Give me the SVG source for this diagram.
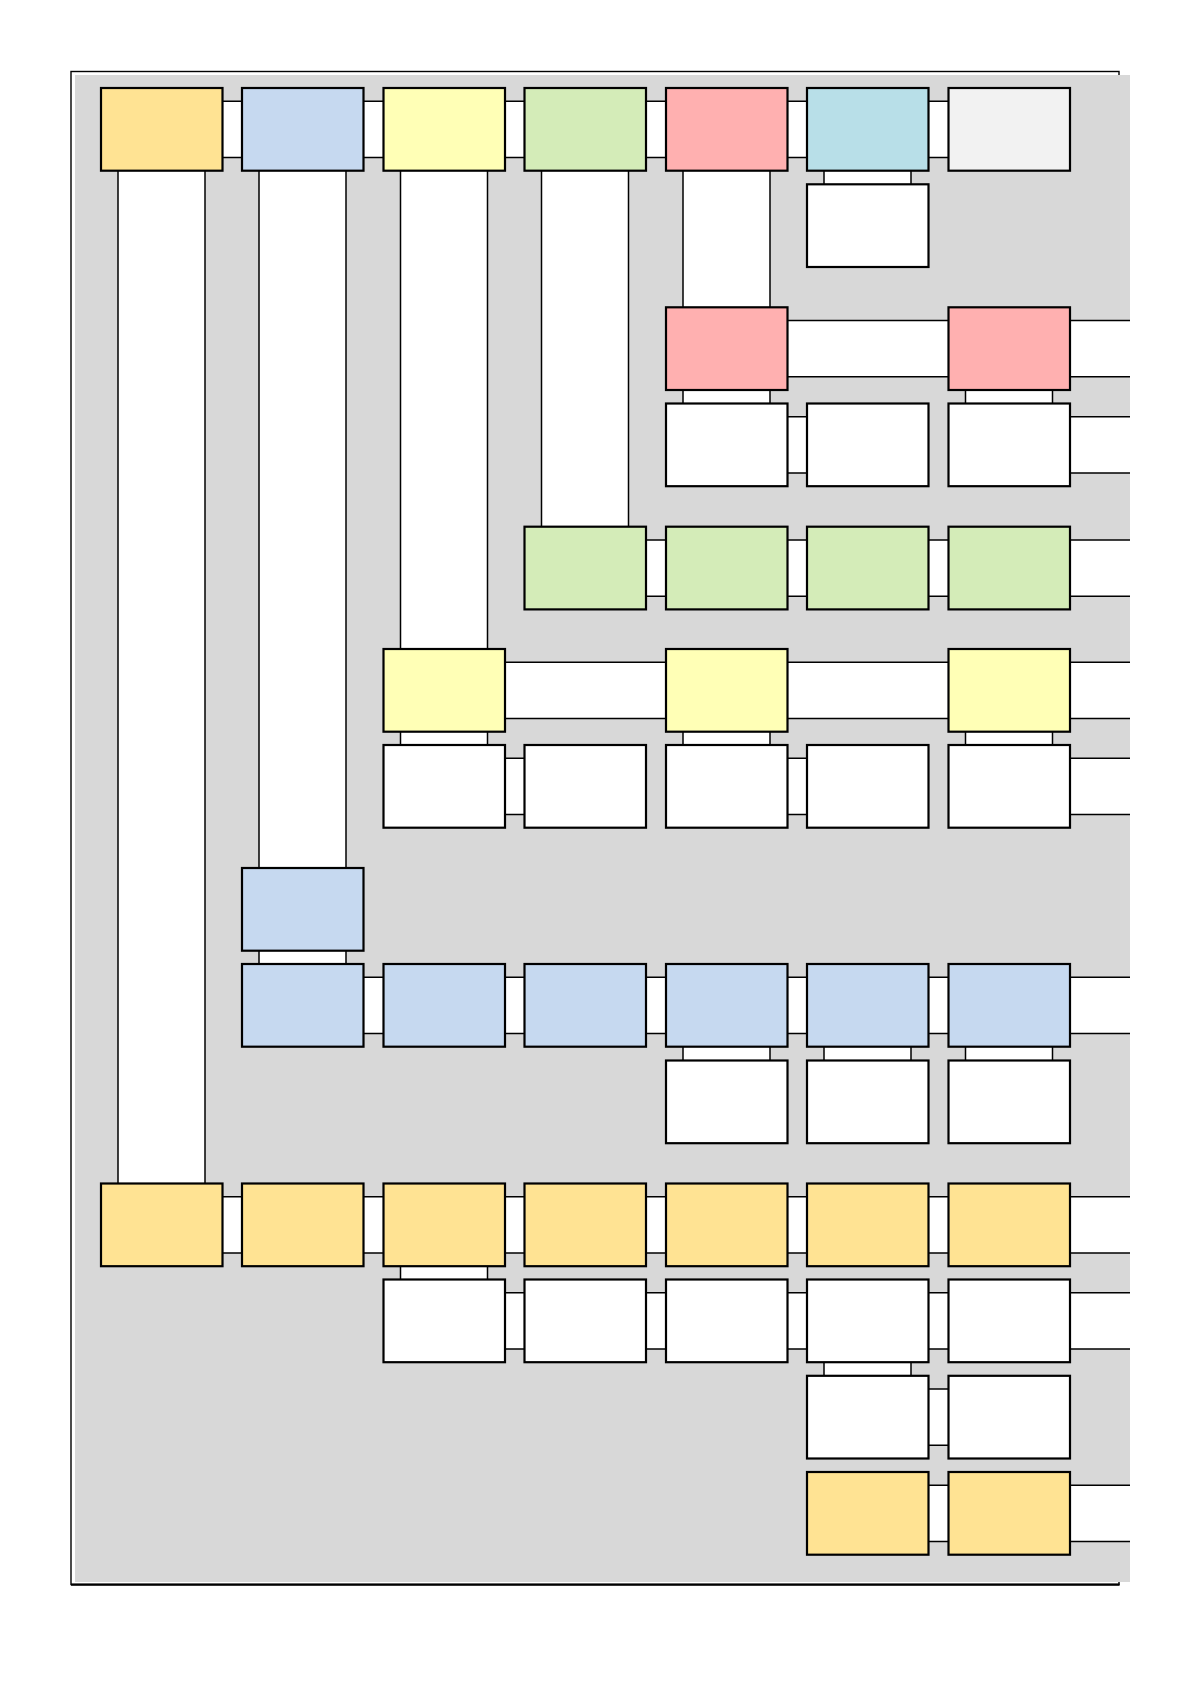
<svg xmlns="http://www.w3.org/2000/svg" width="1190" height="1684" viewBox="0 0 1190 1684">
<defs>
<style>
.page{fill:none;stroke:#000;stroke-width:1.4}
.bg{fill:#d8d8d8}
.band{fill:#fff;stroke:none}
.edge{fill:none;stroke:#000;stroke-width:1.5}
.n{stroke:#000;stroke-width:2.2}
.gold{fill:#ffe393}
.blue{fill:#c6d9f0}
.yel{fill:#ffffb6}
.grn{fill:#d4ecb8}
.pink{fill:#ffb0b0}
.cyan{fill:#b8dfe8}
.lgray{fill:#f2f2f2}
.wht{fill:#fff}
</style>
</defs>
<rect width="1190" height="1684" fill="#fff"/>
<rect class="page" x="71" y="71.5" width="1048" height="1513"/>
<path d="M71 1584.6 H1119.5" stroke="#000" stroke-width="2.4" fill="none"/>
<rect class="bg" x="75" y="75" width="1055" height="1507"/>

<g id="connectors">
<!-- row 1 horizontals -->
<rect class="band" x="222.5" y="101.2" width="19.5" height="56.3"/><path class="edge" d="M222.5 101.2H242M222.5 157.5H242"/>
<rect class="band" x="363.5" y="101.2" width="20" height="56.3"/><path class="edge" d="M363.5 101.2H383.5M363.5 157.5H383.5"/>
<rect class="band" x="505" y="101.2" width="19.5" height="56.3"/><path class="edge" d="M505 101.2H524.5M505 157.5H524.5"/>
<rect class="band" x="646" y="101.2" width="20" height="56.3"/><path class="edge" d="M646 101.2H666M646 157.5H666"/>
<rect class="band" x="787.5" y="101.2" width="19.5" height="56.3"/><path class="edge" d="M787.5 101.2H807M787.5 157.5H807"/>
<rect class="band" x="928.5" y="101.2" width="20" height="56.3"/><path class="edge" d="M928.5 101.2H948.5M928.5 157.5H948.5"/>

<!-- verticals -->
<rect class="band" x="118" y="170.7" width="87" height="1012.8"/><path class="edge" d="M118 170.7V1183.5M205 170.7V1183.5"/>
<rect class="band" x="259" y="170.7" width="87" height="697.3"/><path class="edge" d="M259 170.7V868M346 170.7V868"/>
<rect class="band" x="259" y="950.7" width="87" height="13.3"/><path class="edge" d="M259 950.7V964M346 950.7V964"/>
<rect class="band" x="400.5" y="170.7" width="87" height="478.3"/><path class="edge" d="M400.5 170.7V649M487.5 170.7V649"/>
<rect class="band" x="400.5" y="731.7" width="87" height="13.3"/><path class="edge" d="M400.5 731.7V745M487.5 731.7V745"/>
<rect class="band" x="400.5" y="1266.2" width="87" height="13.3"/><path class="edge" d="M400.5 1266.2V1279.5M487.5 1266.2V1279.5"/>
<rect class="band" x="541.5" y="170.7" width="87" height="356"/><path class="edge" d="M541.5 170.7V526.7M628.5 170.7V526.7"/>
<rect class="band" x="683" y="170.7" width="87" height="136.6"/><path class="edge" d="M683 170.7V307.3M770 170.7V307.3"/>
<rect class="band" x="683" y="390" width="87" height="13.5"/><path class="edge" d="M683 390V403.5M770 390V403.5"/>
<rect class="band" x="683" y="731.7" width="87" height="13.3"/><path class="edge" d="M683 731.7V745M770 731.7V745"/>
<rect class="band" x="683" y="1046.7" width="87" height="13.8"/><path class="edge" d="M683 1046.7V1060.5M770 1046.7V1060.5"/>
<rect class="band" x="824" y="170.7" width="87" height="13.6"/><path class="edge" d="M824 170.7V184.3M911 170.7V184.3"/>
<rect class="band" x="824" y="1046.7" width="87" height="13.8"/><path class="edge" d="M824 1046.7V1060.5M911 1046.7V1060.5"/>
<rect class="band" x="824" y="1362.2" width="87" height="13.6"/><path class="edge" d="M824 1362.2V1375.8M911 1362.2V1375.8"/>
<rect class="band" x="965.5" y="390" width="87" height="13.5"/><path class="edge" d="M965.5 390V403.5M1052.5 390V403.5"/>
<rect class="band" x="965.5" y="731.7" width="87" height="13.3"/><path class="edge" d="M965.5 731.7V745M1052.5 731.7V745"/>
<rect class="band" x="965.5" y="1046.7" width="87" height="13.8"/><path class="edge" d="M965.5 1046.7V1060.5M1052.5 1046.7V1060.5"/>

<!-- row 3 -->
<rect class="band" x="787.5" y="320.5" width="161" height="56.3"/><path class="edge" d="M787.5 320.5H948.5M787.5 376.8H948.5"/>
<rect class="band" x="1070" y="320.5" width="60" height="56.3"/><path class="edge" d="M1070 320.5H1130M1070 376.8H1130"/>
<!-- row 4 -->
<rect class="band" x="787.5" y="416.7" width="19.5" height="56.3"/><path class="edge" d="M787.5 416.7H807M787.5 473H807"/>
<rect class="band" x="1070" y="416.7" width="60" height="56.3"/><path class="edge" d="M1070 416.7H1130M1070 473H1130"/>
<!-- row 5 -->
<rect class="band" x="646" y="539.9" width="20" height="56.3"/><path class="edge" d="M646 539.9H666M646 596.2H666"/>
<rect class="band" x="787.5" y="539.9" width="19.5" height="56.3"/><path class="edge" d="M787.5 539.9H807M787.5 596.2H807"/>
<rect class="band" x="928.5" y="539.9" width="20" height="56.3"/><path class="edge" d="M928.5 539.9H948.5M928.5 596.2H948.5"/>
<rect class="band" x="1070" y="539.9" width="60" height="56.3"/><path class="edge" d="M1070 539.9H1130M1070 596.2H1130"/>
<!-- row 6 -->
<rect class="band" x="505" y="662.2" width="161" height="56.3"/><path class="edge" d="M505 662.2H666M505 718.5H666"/>
<rect class="band" x="787.5" y="662.2" width="161" height="56.3"/><path class="edge" d="M787.5 662.2H948.5M787.5 718.5H948.5"/>
<rect class="band" x="1070" y="662.2" width="60" height="56.3"/><path class="edge" d="M1070 662.2H1130M1070 718.5H1130"/>
<!-- row 7 -->
<rect class="band" x="505" y="758.2" width="19.5" height="56.3"/><path class="edge" d="M505 758.2H524.5M505 814.5H524.5"/>
<rect class="band" x="787.5" y="758.2" width="19.5" height="56.3"/><path class="edge" d="M787.5 758.2H807M787.5 814.5H807"/>
<rect class="band" x="1070" y="758.2" width="60" height="56.3"/><path class="edge" d="M1070 758.2H1130M1070 814.5H1130"/>
<!-- row 9 -->
<rect class="band" x="363.5" y="977.2" width="20" height="56.3"/><path class="edge" d="M363.5 977.2H383.5M363.5 1033.5H383.5"/>
<rect class="band" x="505" y="977.2" width="19.5" height="56.3"/><path class="edge" d="M505 977.2H524.5M505 1033.5H524.5"/>
<rect class="band" x="646" y="977.2" width="20" height="56.3"/><path class="edge" d="M646 977.2H666M646 1033.5H666"/>
<rect class="band" x="787.5" y="977.2" width="19.5" height="56.3"/><path class="edge" d="M787.5 977.2H807M787.5 1033.5H807"/>
<rect class="band" x="928.5" y="977.2" width="20" height="56.3"/><path class="edge" d="M928.5 977.2H948.5M928.5 1033.5H948.5"/>
<rect class="band" x="1070" y="977.2" width="60" height="56.3"/><path class="edge" d="M1070 977.2H1130M1070 1033.5H1130"/>
<!-- row 11 -->
<rect class="band" x="222.5" y="1196.7" width="19.5" height="56.3"/><path class="edge" d="M222.5 1196.7H242M222.5 1253H242"/>
<rect class="band" x="363.5" y="1196.7" width="20" height="56.3"/><path class="edge" d="M363.5 1196.7H383.5M363.5 1253H383.5"/>
<rect class="band" x="505" y="1196.7" width="19.5" height="56.3"/><path class="edge" d="M505 1196.7H524.5M505 1253H524.5"/>
<rect class="band" x="646" y="1196.7" width="20" height="56.3"/><path class="edge" d="M646 1196.7H666M646 1253H666"/>
<rect class="band" x="787.5" y="1196.7" width="19.5" height="56.3"/><path class="edge" d="M787.5 1196.7H807M787.5 1253H807"/>
<rect class="band" x="928.5" y="1196.7" width="20" height="56.3"/><path class="edge" d="M928.5 1196.7H948.5M928.5 1253H948.5"/>
<rect class="band" x="1070" y="1196.7" width="60" height="56.3"/><path class="edge" d="M1070 1196.7H1130M1070 1253H1130"/>
<!-- row 12 -->
<rect class="band" x="505" y="1292.7" width="19.5" height="56.3"/><path class="edge" d="M505 1292.7H524.5M505 1349H524.5"/>
<rect class="band" x="646" y="1292.7" width="20" height="56.3"/><path class="edge" d="M646 1292.7H666M646 1349H666"/>
<rect class="band" x="787.5" y="1292.7" width="19.5" height="56.3"/><path class="edge" d="M787.5 1292.7H807M787.5 1349H807"/>
<rect class="band" x="928.5" y="1292.7" width="20" height="56.3"/><path class="edge" d="M928.5 1292.7H948.5M928.5 1349H948.5"/>
<rect class="band" x="1070" y="1292.7" width="60" height="56.3"/><path class="edge" d="M1070 1292.7H1130M1070 1349H1130"/>
<!-- row 13 -->
<rect class="band" x="928.5" y="1389" width="20" height="56.3"/><path class="edge" d="M928.5 1389H948.5M928.5 1445.3H948.5"/>
<!-- row 14 -->
<rect class="band" x="928.5" y="1485.2" width="20" height="56.3"/><path class="edge" d="M928.5 1485.2H948.5M928.5 1541.5H948.5"/>
<rect class="band" x="1070" y="1485.2" width="60" height="56.3"/><path class="edge" d="M1070 1485.2H1130M1070 1541.5H1130"/>
</g>

<!-- row 1 -->
<g id="n1-1"><rect class="n gold" x="101" y="88" width="121.5" height="82.7"/></g>
<g id="n1-2"><rect class="n blue" x="242" y="88" width="121.5" height="82.7"/></g>
<g id="n1-3"><rect class="n yel" x="383.5" y="88" width="121.5" height="82.7"/></g>
<g id="n1-4"><rect class="n grn" x="524.5" y="88" width="121.5" height="82.7"/></g>
<g id="n1-5"><rect class="n pink" x="666" y="88" width="121.5" height="82.7"/></g>
<g id="n1-6"><rect class="n cyan" x="807" y="88" width="121.5" height="82.7"/></g>
<g id="n1-7"><rect class="n lgray" x="948.5" y="88" width="121.5" height="82.7"/></g>
<!-- row 2 -->
<g id="n2-6"><rect class="n wht" x="807" y="184.3" width="121.5" height="82.7"/></g>
<!-- row 3 -->
<g id="n3-5"><rect class="n pink" x="666" y="307.3" width="121.5" height="82.7"/></g>
<g id="n3-7"><rect class="n pink" x="948.5" y="307.3" width="121.5" height="82.7"/></g>
<!-- row 4 -->
<g id="n4-5"><rect class="n wht" x="666" y="403.5" width="121.5" height="82.7"/></g>
<g id="n4-6"><rect class="n wht" x="807" y="403.5" width="121.5" height="82.7"/></g>
<g id="n4-7"><rect class="n wht" x="948.5" y="403.5" width="121.5" height="82.7"/></g>
<!-- row 5 -->
<g id="n5-4"><rect class="n grn" x="524.5" y="526.7" width="121.5" height="82.7"/></g>
<g id="n5-5"><rect class="n grn" x="666" y="526.7" width="121.5" height="82.7"/></g>
<g id="n5-6"><rect class="n grn" x="807" y="526.7" width="121.5" height="82.7"/></g>
<g id="n5-7"><rect class="n grn" x="948.5" y="526.7" width="121.5" height="82.7"/></g>
<!-- row 6 -->
<g id="n6-3"><rect class="n yel" x="383.5" y="649" width="121.5" height="82.7"/></g>
<g id="n6-5"><rect class="n yel" x="666" y="649" width="121.5" height="82.7"/></g>
<g id="n6-7"><rect class="n yel" x="948.5" y="649" width="121.5" height="82.7"/></g>
<!-- row 7 -->
<g id="n7-3"><rect class="n wht" x="383.5" y="745" width="121.5" height="82.7"/></g>
<g id="n7-4"><rect class="n wht" x="524.5" y="745" width="121.5" height="82.7"/></g>
<g id="n7-5"><rect class="n wht" x="666" y="745" width="121.5" height="82.7"/></g>
<g id="n7-6"><rect class="n wht" x="807" y="745" width="121.5" height="82.7"/></g>
<g id="n7-7"><rect class="n wht" x="948.5" y="745" width="121.5" height="82.7"/></g>
<!-- row 8 -->
<g id="n8-2"><rect class="n blue" x="242" y="868" width="121.5" height="82.7"/></g>
<!-- row 9 -->
<g id="n9-2"><rect class="n blue" x="242" y="964" width="121.5" height="82.7"/></g>
<g id="n9-3"><rect class="n blue" x="383.5" y="964" width="121.5" height="82.7"/></g>
<g id="n9-4"><rect class="n blue" x="524.5" y="964" width="121.5" height="82.7"/></g>
<g id="n9-5"><rect class="n blue" x="666" y="964" width="121.5" height="82.7"/></g>
<g id="n9-6"><rect class="n blue" x="807" y="964" width="121.5" height="82.7"/></g>
<g id="n9-7"><rect class="n blue" x="948.5" y="964" width="121.5" height="82.7"/></g>
<!-- row 10 -->
<g id="n10-5"><rect class="n wht" x="666" y="1060.5" width="121.5" height="82.7"/></g>
<g id="n10-6"><rect class="n wht" x="807" y="1060.5" width="121.5" height="82.7"/></g>
<g id="n10-7"><rect class="n wht" x="948.5" y="1060.5" width="121.5" height="82.7"/></g>
<!-- row 11 -->
<g id="n11-1"><rect class="n gold" x="101" y="1183.5" width="121.5" height="82.7"/></g>
<g id="n11-2"><rect class="n gold" x="242" y="1183.5" width="121.5" height="82.7"/></g>
<g id="n11-3"><rect class="n gold" x="383.5" y="1183.5" width="121.5" height="82.7"/></g>
<g id="n11-4"><rect class="n gold" x="524.5" y="1183.5" width="121.5" height="82.7"/></g>
<g id="n11-5"><rect class="n gold" x="666" y="1183.5" width="121.5" height="82.7"/></g>
<g id="n11-6"><rect class="n gold" x="807" y="1183.5" width="121.5" height="82.7"/></g>
<g id="n11-7"><rect class="n gold" x="948.5" y="1183.5" width="121.5" height="82.7"/></g>
<!-- row 12 -->
<g id="n12-3"><rect class="n wht" x="383.5" y="1279.5" width="121.5" height="82.7"/></g>
<g id="n12-4"><rect class="n wht" x="524.5" y="1279.5" width="121.5" height="82.7"/></g>
<g id="n12-5"><rect class="n wht" x="666" y="1279.5" width="121.5" height="82.7"/></g>
<g id="n12-6"><rect class="n wht" x="807" y="1279.5" width="121.5" height="82.7"/></g>
<g id="n12-7"><rect class="n wht" x="948.5" y="1279.5" width="121.5" height="82.7"/></g>
<!-- row 13 -->
<g id="n13-6"><rect class="n wht" x="807" y="1375.8" width="121.5" height="82.7"/></g>
<g id="n13-7"><rect class="n wht" x="948.5" y="1375.8" width="121.5" height="82.7"/></g>
<!-- row 14 -->
<g id="n14-6"><rect class="n gold" x="807" y="1472" width="121.5" height="82.7"/></g>
<g id="n14-7"><rect class="n gold" x="948.5" y="1472" width="121.5" height="82.7"/></g>
</svg>
